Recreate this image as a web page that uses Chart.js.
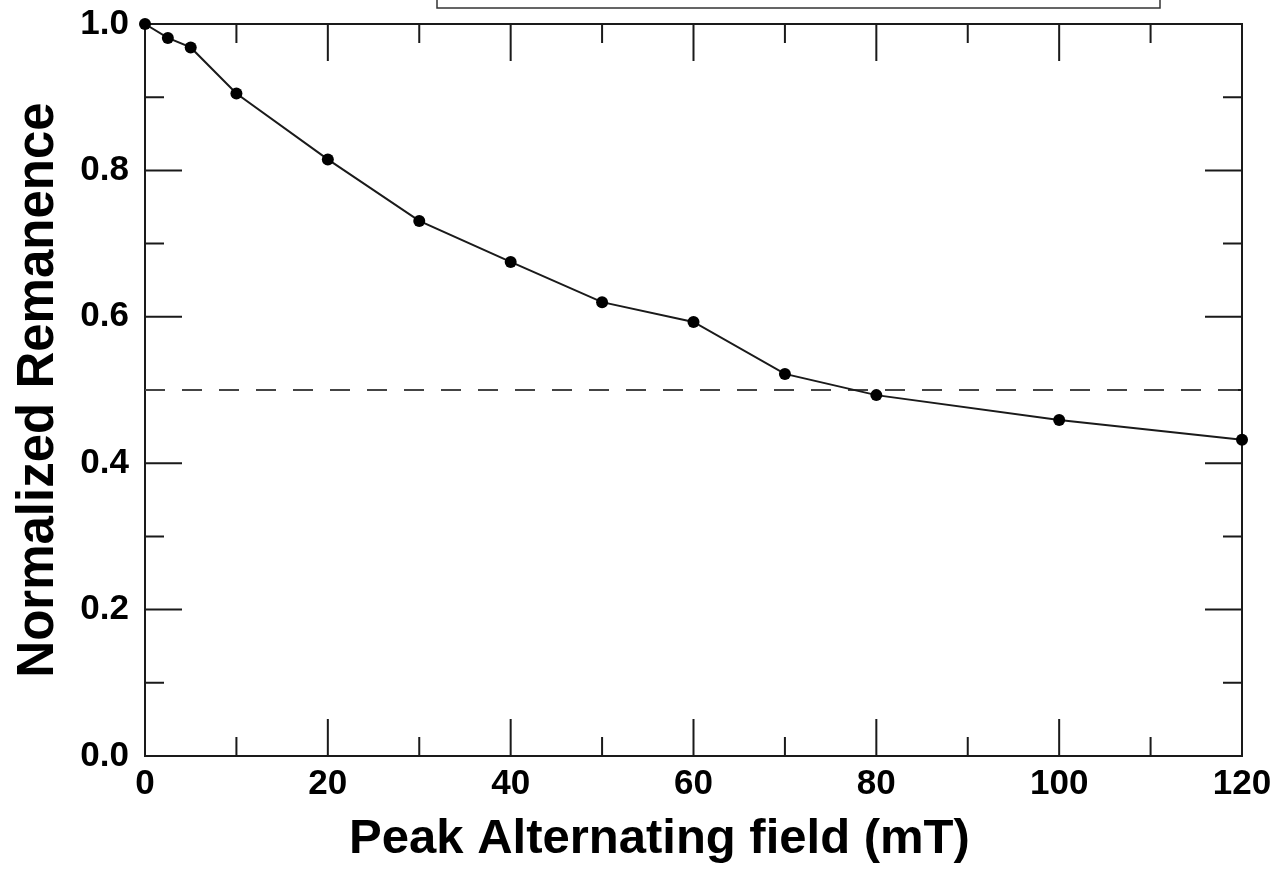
<!DOCTYPE html>
<html>
<head>
<meta charset="utf-8">
<title>AF demagnetization</title>
<script src="https://cdn.jsdelivr.net/npm/chart.js@4.4.1/dist/chart.umd.min.js"></script>
<style>
  html, body { margin: 0; padding: 0; background: #fff; }
  #wrap { width: 1283px; height: 877px; position: relative; }
</style>
</head>
<body>
<div id="wrap"><canvas id="myChart"></canvas></div>
<script>
// peak AF field steps (mT) and normalized remanence
const fieldSteps = [0, 2.5, 5, 10, 20, 30, 40, 50, 60, 70, 80, 100, 120];
const remanence = [1.0, 0.981, 0.968, 0.905, 0.815, 0.731, 0.675, 0.620, 0.593, 0.522, 0.493, 0.459, 0.432];

// median destructive field reference level
const halfLevel = 0.5;

const xMajorTicks = [0, 20, 40, 60, 80, 100, 120];
const xMinorTicks = [10, 30, 50, 70, 90, 110];
const yMajorTicks = [0, 0.2, 0.4, 0.6, 0.8, 1.0];
const yMinorTicks = [0.1, 0.3, 0.5, 0.7, 0.9];

const FONT = '"Liberation Sans", Arial, Helvetica, sans-serif';
const INK = '#1a1a1a';

// frame + inward tick marks on all four sides (like the original plot)
const frameTicks = {
    id: 'frameTicks',
    beforeDatasetsDraw(chart) {
        const { ctx, chartArea: a, scales: { x, y } } = chart;
        ctx.save();
        ctx.strokeStyle = INK;
        ctx.lineWidth = 2;
        ctx.strokeRect(a.left, a.top, a.right - a.left, a.bottom - a.top);
        ctx.beginPath();
        const xMark = (v, len) => {
            const px = x.getPixelForValue(v);
            ctx.moveTo(px, a.bottom); ctx.lineTo(px, a.bottom - len);
            ctx.moveTo(px, a.top); ctx.lineTo(px, a.top + len);
        };
        const yMark = (v, len) => {
            const py = y.getPixelForValue(v);
            ctx.moveTo(a.left, py); ctx.lineTo(a.left + len, py);
            ctx.moveTo(a.right, py); ctx.lineTo(a.right - len, py);
        };
        xMajorTicks.forEach(v => xMark(v, 37));
        xMinorTicks.forEach(v => xMark(v, 19));
        yMajorTicks.forEach(v => yMark(v, 37));
        yMinorTicks.forEach(v => yMark(v, 19));
        ctx.stroke();

        // legend frame, cut off at the top edge of the figure
        ctx.lineWidth = 1.5;
        ctx.strokeStyle = '#333';
        ctx.strokeRect(a.left + 292, a.top - 44, 723, 28);
        ctx.restore();
    }
};

const canvas = document.getElementById('myChart');
const ctx = canvas.getContext('2d');

new Chart(ctx, {
    type: 'scatter',
    data: {
        datasets: [{
            label: 'Normalized remanence',
            data: fieldSteps.map((f, i) => ({ x: f, y: remanence[i] })),
            showLine: true,
            borderColor: INK,
            borderWidth: 2,
            backgroundColor: '#000',
            pointBackgroundColor: '#000',
            pointBorderColor: '#000',
            pointRadius: 6,
            pointBorderWidth: 0,
            tension: 0,
            clip: false
        }, {
            label: 'Half level',
            data: [{ x: 0, y: halfLevel }, { x: 120, y: halfLevel }],
            showLine: true,
            borderColor: '#444',
            borderWidth: 2,
            borderDash: [20, 17],
            pointRadius: 0,
            clip: false
        }]
    },
    options: {
        responsive: true,
        maintainAspectRatio: false,
        animation: false,
        layout: { padding: { top: 24, right: 41, left: 0, bottom: 0 } },
        plugins: {
            legend: { display: false },
            tooltip: { enabled: false }
        },
        scales: {
            x: {
                type: 'linear',
                min: 0,
                max: 120,
                grid: { display: false, drawTicks: false },
                border: { display: false },
                afterBuildTicks: scale => { scale.ticks = xMajorTicks.map(v => ({ value: v })); },
                afterFit: scale => {
                    scale.height = 121;
                    scale.paddingLeft = 0;
                    scale.paddingRight = 0;
                },
                ticks: {
                    color: '#000',
                    padding: 7,
                    font: { family: FONT, size: 35, weight: 'bold' },
                    maxRotation: 0
                },
                title: {
                    display: true,
                    text: 'Peak Alternating field (mT)     ',
                    color: '#000',
                    padding: { top: 0, bottom: 8 },
                    font: { family: FONT, size: 49, weight: 'bold' }
                }
            },
            y: {
                type: 'linear',
                min: 0,
                max: 1.0,
                grid: { display: false, drawTicks: false },
                border: { display: false },
                afterBuildTicks: scale => { scale.ticks = yMajorTicks.map(v => ({ value: v })); },
                afterFit: scale => {
                    scale.width = 145;
                    scale.paddingTop = 0;
                    scale.paddingBottom = 0;
                },
                ticks: {
                    color: '#000',
                    padding: 16,
                    font: { family: FONT, size: 35, weight: 'bold' },
                    callback: v => Number(v).toFixed(1)
                },
                title: {
                    display: true,
                    text: 'Normalized Remanence',
                    color: '#000',
                    padding: { top: 8, bottom: 0 },
                    font: { family: FONT, size: 51, weight: 'bold' }
                }
            }
        }
    },
    plugins: [frameTicks]
});
</script>
</body>
</html>
